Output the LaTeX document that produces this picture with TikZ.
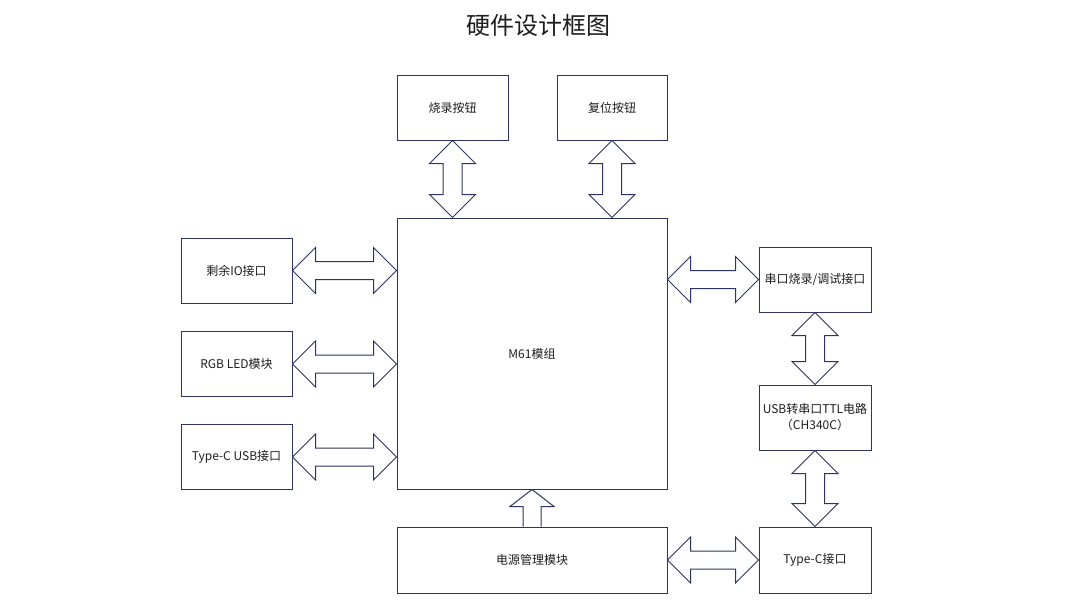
\documentclass[tikz,border=0pt]{standalone}
\usepackage{fontspec}
\setmainfont{Noto Sans CJK SC}
\usetikzlibrary{calc}
\definecolor{navy}{RGB}{45,52,98}
\definecolor{txt}{RGB}{30,30,30}
\tikzset{
  box/.style={draw=navy,line width=1pt,fill=white,rectangle,inner sep=0pt,align=center,font=\fontsize{12}{16}\selectfont,text=txt},
  blk/.style={draw=navy,line width=1pt,fill=white,line join=miter},
}
% horizontal double block arrow between two points (same y)
\newcommand\harr[2]{\draw[blk] let \p1=(#1), \p2=(#2) in
  (\x1,\y1) -- (\x1+23pt,\y1+23pt) -- (\x1+23pt,\y1+9pt) -- (\x2-23pt,\y1+9pt) -- (\x2-23pt,\y1+23pt) -- (\x2,\y1)
  -- (\x2-23pt,\y1-23pt) -- (\x2-23pt,\y1-9pt) -- (\x1+23pt,\y1-9pt) -- (\x1+23pt,\y1-23pt) -- cycle;}
% vertical double block arrow, #1 upper point, #2 lower point
\newcommand\varr[2]{\draw[blk] let \p1=(#1), \p2=(#2) in
  (\x1,\y1) -- (\x1+23pt,\y1-23pt) -- (\x1+9.5pt,\y1-23pt) -- (\x1+9.5pt,\y2+23pt) -- (\x1+23pt,\y2+23pt) -- (\x1,\y2)
  -- (\x1-23pt,\y2+23pt) -- (\x1-9.5pt,\y2+23pt) -- (\x1-9.5pt,\y1-23pt) -- (\x1-23pt,\y1-23pt) -- cycle;}
\begin{document}
\begin{tikzpicture}[x=1pt,y=-1pt]
\useasboundingbox[fill=white] (0,0) rectangle (1080,608);
\node[font=\fontsize{24}{28}\selectfont,text=txt] (title) at (538,25) {硬件设计框图};
\node[box,minimum width=111pt,minimum height=65pt] (burn) at (452.5,107.5) {烧录按钮};
\node[box,minimum width=110pt,minimum height=65pt] (reset) at (612,107.5) {复位按钮};
\node[box,minimum width=270pt,minimum height=271pt] (m61) at (532,353.5) {M61模组};
\node[box,minimum width=111pt,minimum height=65pt] (io) at (236.5,270.5) {剩余IO接口};
\node[box,minimum width=111pt,minimum height=65pt] (rgb) at (236.5,364) {RGB LED模块};
\node[box,minimum width=111pt,minimum height=65pt] (usbc) at (236.5,457) {Type-C USB接口};
\node[box,minimum width=112pt,minimum height=65pt] (serial) at (815,279.5) {串口烧录/调试接口};
\node[box,minimum width=112pt,minimum height=65pt] (ch340) at (815,417.5) {USB转串口TTL电路\\（CH340C）};
\node[box,minimum width=112pt,minimum height=66pt] (typec) at (815,560) {Type-C接口};
\node[box,minimum width=270pt,minimum height=66pt] (power) at (532,560) {电源管理模块};
% arrows
\varr{burn.south}{burn.south |- m61.north}
\varr{reset.south}{reset.south |- m61.north}
\harr{io.east}{io.east -| m61.west}
\harr{rgb.east}{rgb.east -| m61.west}
\harr{usbc.east}{usbc.east -| m61.west}
\harr{m61.east |- serial.west}{serial.west}
\harr{power.east |- typec.west}{typec.west}
\varr{serial.south}{ch340.north}
\varr{ch340.south}{typec.north}
\draw[blk] let \p1=(power.north), \p2=(m61.south) in
  (\x1-9pt,\y1) -- (\x1-9pt,\y2-17pt) -- (\x1-22pt,\y2-17pt) -- (\x1,\y2) -- (\x1+22pt,\y2-17pt) -- (\x1+9pt,\y2-17pt) -- (\x1+9pt,\y1);
\end{tikzpicture}
\end{document}
